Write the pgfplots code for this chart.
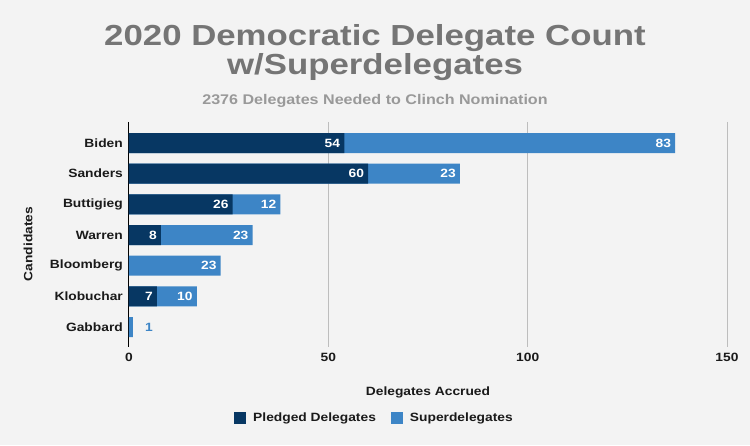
\documentclass[border=0pt]{standalone}
\usepackage{fontspec}
\setmainfont{Liberation Sans}[FakeStretch=1.15]
\newfontfamily\titlefont{Liberation Sans}[FakeStretch=1.2]
\usepackage{pgfplots}
\pgfplotsset{compat=1.18}
\definecolor{bg}{HTML}{F3F3F3}
\definecolor{dark}{HTML}{073763}
\definecolor{light}{HTML}{3D85C6}
\definecolor{titlegray}{HTML}{757575}
\definecolor{subgray}{HTML}{999999}
\definecolor{txt}{HTML}{1A1A1A}
\definecolor{gridc}{HTML}{BDBDBD}
\begin{document}
\begin{tikzpicture}[x=1pt,y=1pt]
\fill[bg] (0,0) rectangle (750,445);
\useasboundingbox (0,0) rectangle (750,445);
\node[anchor=base, text=titlegray, inner sep=0pt, font=\titlefont\bfseries\fontsize{29}{29}\selectfont] at (375,399.3) {2020 Democratic Delegate Count};
\node[anchor=base, text=titlegray, inner sep=0pt, font=\titlefont\bfseries\fontsize{29}{29}\selectfont] at (375,370) {w/Superdelegates};
\node[anchor=base, text=subgray, inner sep=0pt, font=\bfseries\fontsize{14}{14}\selectfont] at (375,340) {2376 Delegates Needed to Clinch Nomination};
\begin{axis}[
  at={(129pt,98pt)}, anchor=south west,
  scale only axis, width=598pt, height=225pt,
  xbar, bar width=20pt, bar shift=0pt,
  xmin=0, xmax=150, ymin=-0.685, ymax=6.652, y dir=reverse,
  ytick={0,1,2,3,4,5,6},
  yticklabels={Biden,Sanders,Buttigieg,Warren,Bloomberg,Klobuchar,Gabbard},
  xtick={50,100,150}, extra x ticks={0},
  extra x tick style={grid style={black, line width=1pt}},
  xmajorgrids, grid style={gridc, line width=0.9pt},
  major tick length=0pt,
  axis line style={draw=none},
  /pgf/number format/assume math mode=true,
  tick label style={font=\bfseries\fontsize{12}{14}\selectfont, text=txt},
  xticklabel style={anchor=north, inner sep=0pt, yshift=-6pt},
  yticklabel style={anchor=east, inner sep=0pt, xshift=-6pt},
  xlabel={Delegates Accrued},
  xlabel style={at={(axis description cs:0.5,0)}, anchor=center, yshift=-45pt, font=\bfseries\fontsize{12}{14}\selectfont, text=txt},
  ylabel={Candidates},
  ylabel style={at={(axis description cs:-0.1689,0.458)}, anchor=center, font=\bfseries\fontsize{12}{14}\selectfont, text=txt},
  legend columns=2, reverse legend,
  legend style={at={(axis description cs:0.4105,-0.3156)}, anchor=center, draw=none, fill=none,
    font=\bfseries\fontsize{12}{14}\selectfont, text=txt,
    /tikz/every odd column/.append style={column sep=5pt},
    /tikz/every even column/.append style={column sep=13pt}},
  legend cell align=left,
  nodes near coords,
  point meta=explicit symbolic,
  every node near coord/.append style={font=\bfseries\fontsize{12}{14}\selectfont, inner sep=0pt},
  every axis plot post/.append style={legend image code/.code={\fill (0pt,-6pt) rectangle (12pt,6pt);}},
]
% Superdelegates (drawn from the end of the pledged segment to the total)
\addplot[fill=light, draw=none, nodes near coords align={anchor=east},
  every node near coord/.append style={text=white, xshift=-4pt}]
  coordinates {(137,0)[83] (83,1)[23] (38,2)[12] (31,3)[23] (23,4)[23] (17,5)[10] (1,6)[]};
\addlegendentry{Superdelegates}
% Pledged delegates
\addplot[fill=dark, draw=none, nodes near coords align={anchor=east},
  every node near coord/.append style={text=white, xshift=-4pt}]
  coordinates {(54,0)[54] (60,1)[60] (26,2)[26] (8,3)[8] (0,4)[] (7,5)[7] (0,6)[]};
\addlegendentry{Pledged Delegates}
% outside label for Gabbard
\addplot[fill=none, draw=none, forget plot, nodes near coords align={anchor=west},
  every node near coord/.append style={text=light, xshift=12pt}]
  coordinates {(1,6)[1]};
\end{axis}
\end{tikzpicture}
\end{document}
